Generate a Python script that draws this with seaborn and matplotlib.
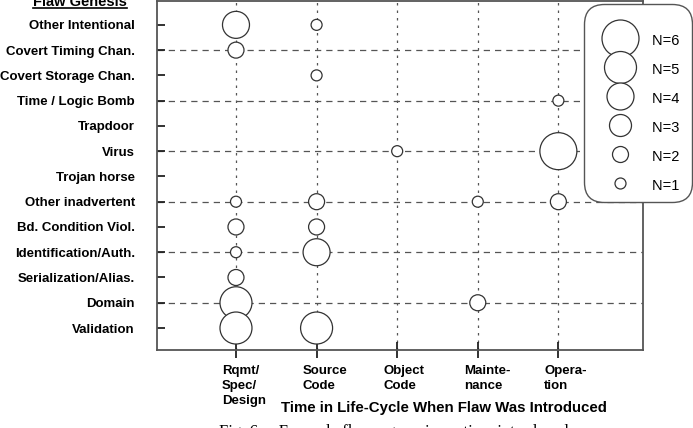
import pandas as pd
import matplotlib
matplotlib.use("Agg")
import matplotlib.pyplot as plt
import matplotlib.transforms as mtransforms
from matplotlib.lines import Line2D
import seaborn as sns

# Flaw genesis categories (top to bottom) and life-cycle phases (left to right)
genesis = [
    "Other Intentional", "Covert Timing Chan.", "Covert Storage Chan.",
    "Time / Logic Bomb", "Trapdoor", "Virus", "Trojan horse",
    "Other inadvertent", "Bd. Condition Viol.", "Identification/Auth.",
    "Serialization/Alias.", "Domain", "Validation",
]
phases = ["Rqmt/\nSpec/\nDesign", "Source\nCode", "Object\nCode", "Mainte-\nnance", "Opera-\ntion"]
grid_rows = ["Covert Timing Chan.", "Time / Logic Bomb", "Virus",
             "Other inadvertent", "Identification/Auth.", "Domain"]

# Number of example flaws per (genesis, phase)
flaw_type = ["Other Intentional", "Other Intentional", "Covert Timing Chan.",
             "Covert Storage Chan.", "Time / Logic Bomb", "Virus", "Virus",
             "Other inadvertent", "Other inadvertent", "Other inadvertent", "Other inadvertent",
             "Bd. Condition Viol.", "Bd. Condition Viol.",
             "Identification/Auth.", "Identification/Auth.",
             "Serialization/Alias.", "Domain", "Domain", "Validation", "Validation"]
phase = [0, 1, 0,
         1, 4, 2, 4,
         0, 1, 3, 4,
         0, 1,
         0, 1,
         0, 0, 3, 0, 1]
count = [4, 1, 2,
         1, 1, 1, 6,
         1, 2, 1, 2,
         2, 2,
         1, 4,
         2, 5, 2, 5, 5]
legend_n = [6, 5, 4, 3, 2, 1]

df = pd.DataFrame({"genesis": flaw_type, "phase": phase, "N": count})
df["row"] = df["genesis"].map(genesis.index)

# marker diameter in pixels per N, converted to points^2 for scatter
diam_px = {1: 11, 2: 16, 3: 22, 4: 27, 5: 32, 6: 37}
sizes = {n: (d * 0.72) ** 2 for n, d in diam_px.items()}

line_col = "#555555"
plt.rcParams["font.family"] = ["Liberation Sans", "DejaVu Sans"]

fig = plt.figure(figsize=(6.93, 4.28), dpi=100)
ax = fig.add_axes([157 / 693, 78 / 428, 486 / 693, 350 / 428 - 0.002])

for g in grid_rows:
    ax.axhline(genesis.index(g), color=line_col, lw=0.9, ls=(0, (5, 4)), zorder=1)
for i in range(len(phases)):
    ax.axvline(i, color=line_col, lw=0.9, ls=(0, (2, 4)), zorder=1)

sns.scatterplot(
    data=df, x="phase", y="row", size="N", sizes=sizes,
    color="white", edgecolor="#333333", linewidth=0.9,
    legend=False, ax=ax, zorder=3,
)

ax.set_xlim(-0.98, 5.05)
ax.set_ylim(12.87, -0.95)

ax.set_yticks(range(len(genesis)))
ax.set_yticklabels(genesis, fontweight="bold", fontsize=9.5)
ax.set_yticks([genesis.index(g) for g in grid_rows], minor=True)
ax.tick_params(axis="y", which="major", direction="in", length=6, width=1.3,
               color="#222222", pad=16)
ax.tick_params(axis="y", which="minor", direction="out", length=5, width=1.3,
               color="#222222")

ax.set_xticks(range(len(phases)))
ax.set_xticklabels(phases, fontweight="bold", fontsize=9.5)
ax.tick_params(axis="x", which="major", direction="inout", length=11, width=1.3,
               color="#222222", pad=5)
offset = mtransforms.ScaledTranslation(-14 / 100, 0, fig.dpi_scale_trans)
for lab in ax.get_xticklabels():
    lab.set_horizontalalignment("left")
    lab.set_multialignment("left")
    lab.set_linespacing(1.35)
    lab.set_transform(lab.get_transform() + offset)

ax.set_xlabel("Time in Life-Cycle When Flaw Was Introduced", fontweight="bold", fontsize=10.8)
ax.xaxis.set_label_coords(0.59, -0.145)
ax.xaxis.label.set_verticalalignment("top")
ax.set_ylabel("")

for s in ax.spines.values():
    s.set_color(line_col)
    s.set_linewidth(1.3)

handles = [Line2D([], [], marker="o", ls="", markersize=diam_px[n] * 0.72,
                  markerfacecolor="white", markeredgecolor="#333333",
                  markeredgewidth=0.9) for n in legend_n]
# a near-empty title gives the extra head room the boxed key has above N=6
leg = ax.legend(handles, [f"N={n} " for n in legend_n],
                loc="upper right", bbox_to_anchor=(692 / 693, 1 - 4 / 428),
                bbox_transform=fig.transFigure, fontsize=10.5,
                title=" ", title_fontsize=6,
                handlelength=3.8, handleheight=1.4, labelspacing=0.83,
                handletextpad=0.25, borderpad=0.6, borderaxespad=0,
                frameon=True, fancybox=True, framealpha=1)
frame = leg.get_frame()
frame.set_edgecolor(line_col)
frame.set_linewidth(1.0)
frame.set_boxstyle("round", pad=0, rounding_size=1.4)
leg.set_zorder(5)

# y-axis title sits above the tick labels, underlined
title = fig.text(80 / 693, 1 - 6 / 428, "Flaw Genesis", ha="center",
                 va="baseline", fontsize=10.5, fontweight="bold")
fig.canvas.draw()
bb = title.get_window_extent().transformed(fig.transFigure.inverted())
fig.add_artist(Line2D([bb.x0, bb.x1], [1 - 8 / 428] * 2, color="black",
                      lw=1.2, transform=fig.transFigure))

fig.text(394 / 693, 1 - 424 / 428, "Fig. 6.    Example flaws: genesis vs. time introduced",
         ha="center", va="top", fontsize=12, family="Liberation Serif")

fig.savefig("out.png", dpi=100)
